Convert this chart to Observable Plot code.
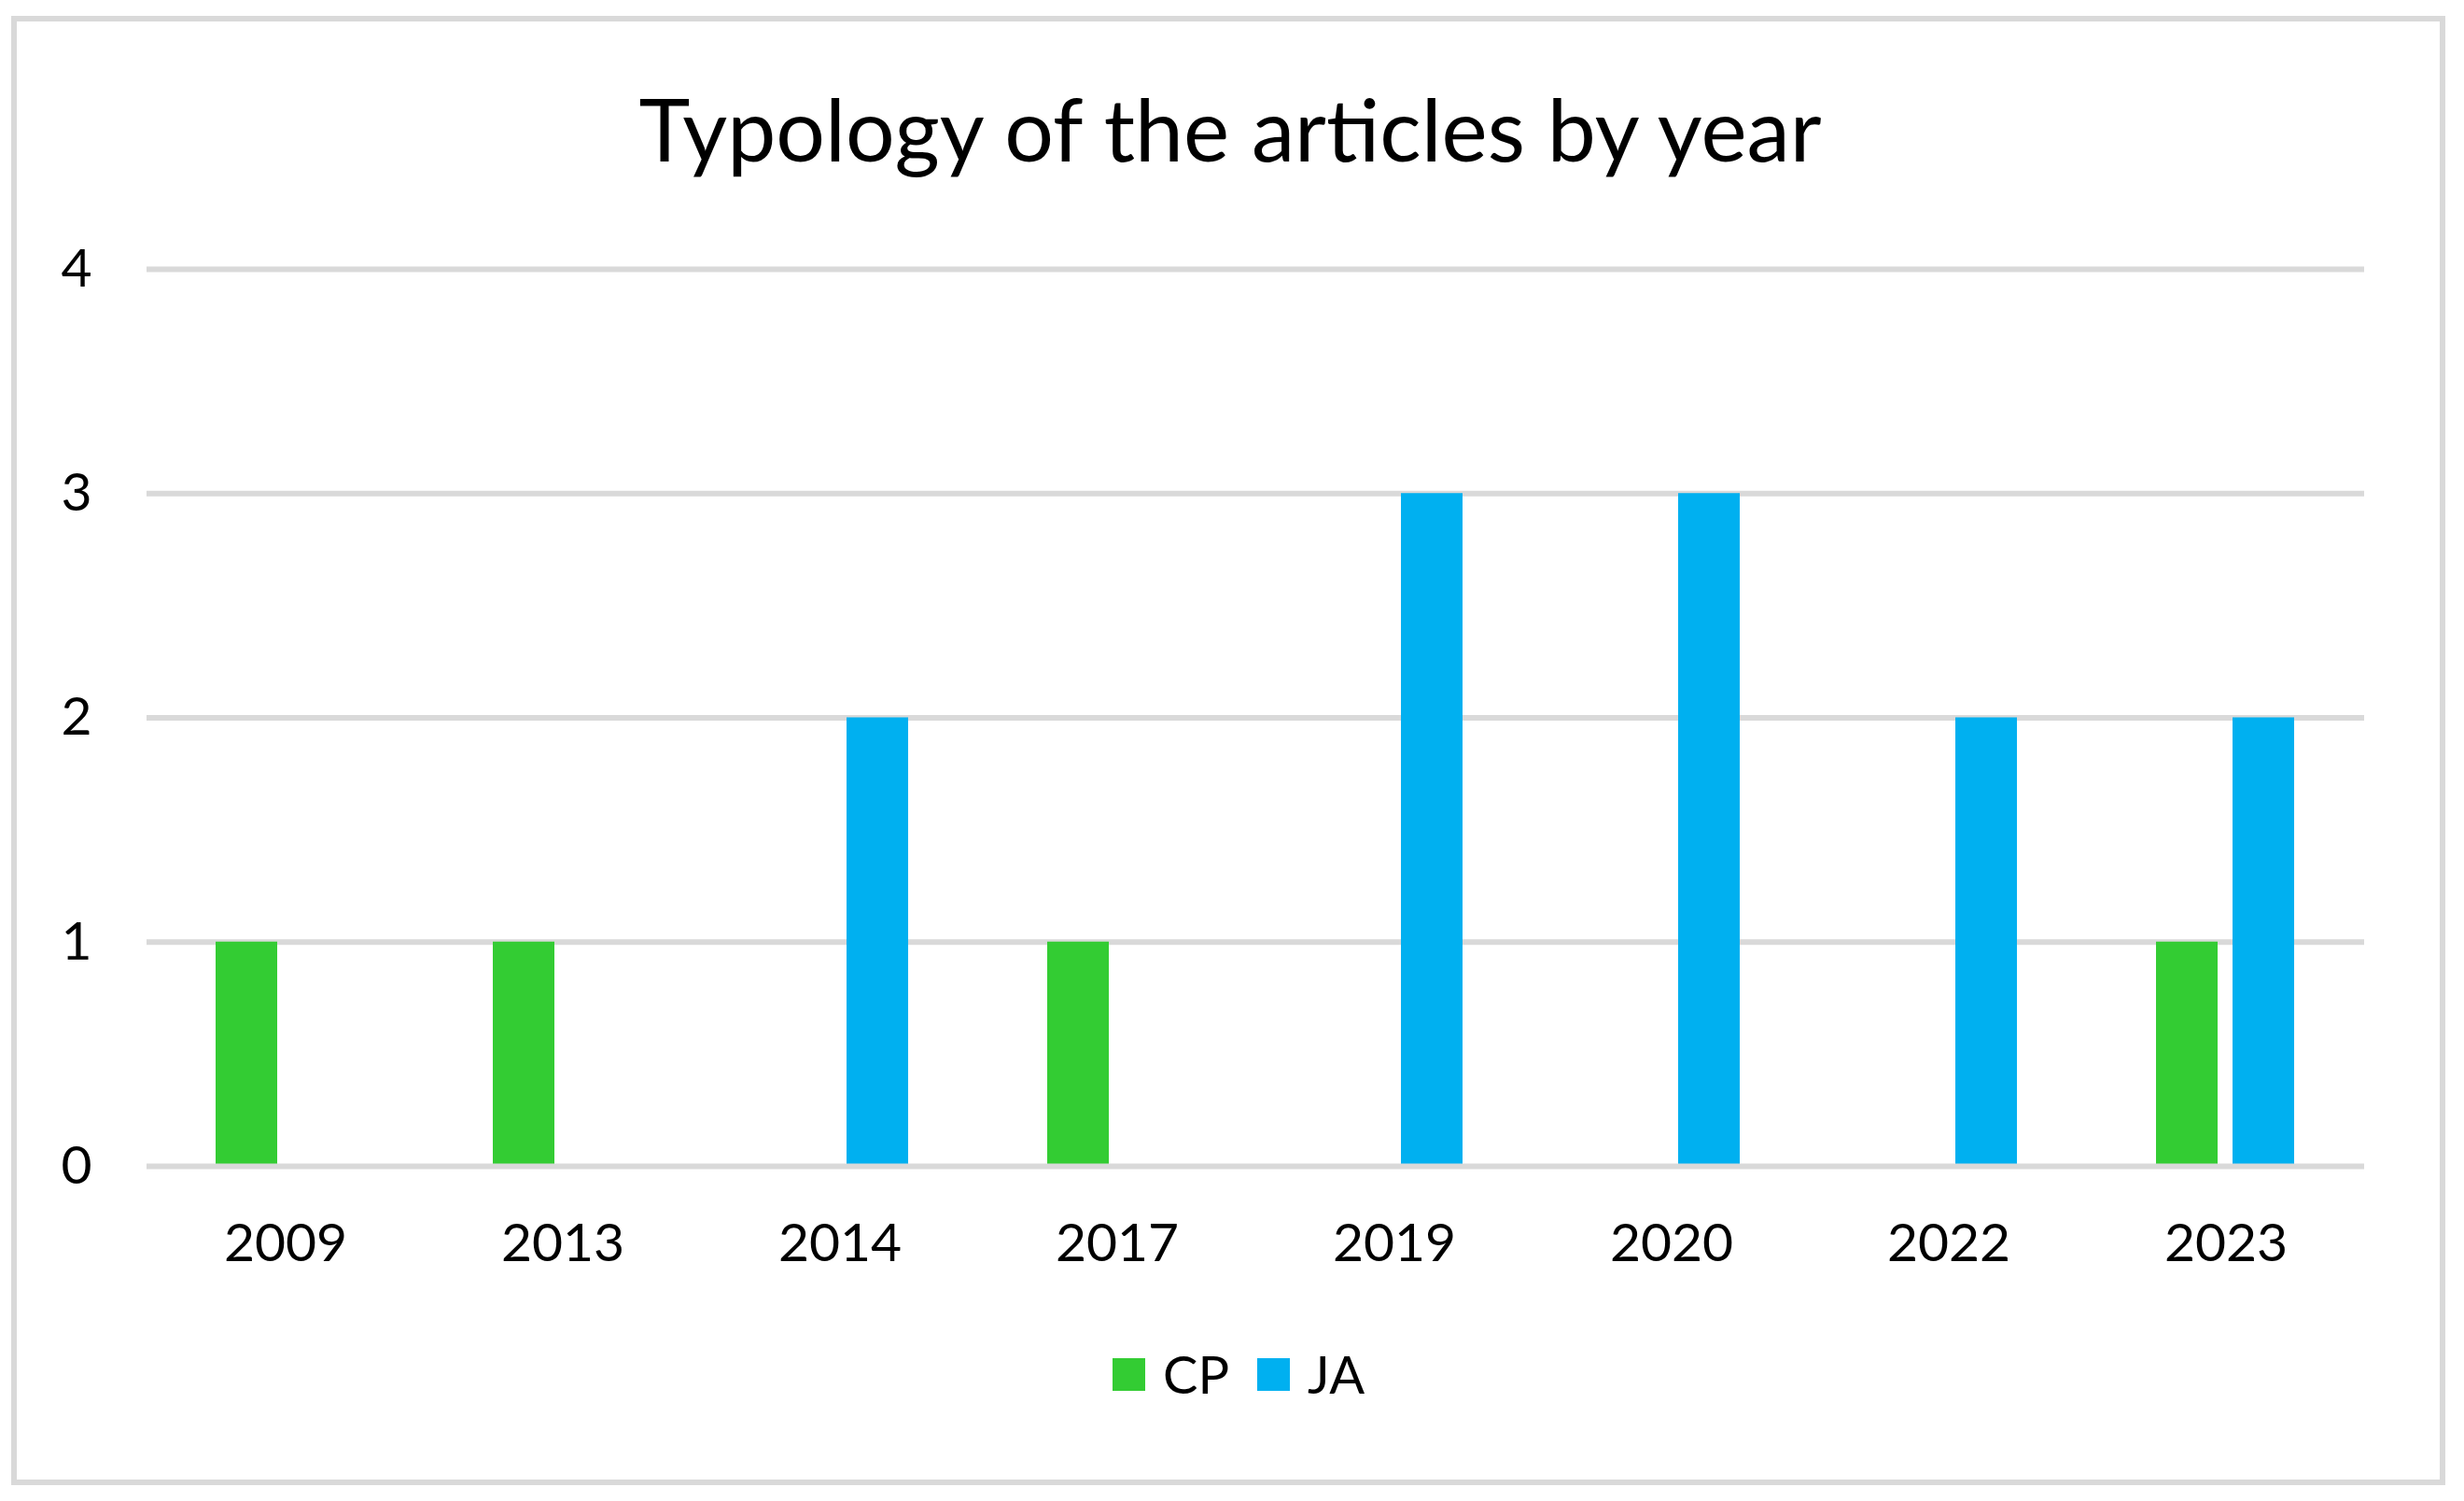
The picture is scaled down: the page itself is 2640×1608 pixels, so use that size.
<!DOCTYPE html>
<html>
<head>
<meta charset="utf-8">
<script src="https://cdn.jsdelivr.net/npm/d3@7"></script>
<script src="https://cdn.jsdelivr.net/npm/@observablehq/plot@0.6"></script>
<style>
  html, body { margin: 0; padding: 0; background: #fff; }
  #wrap { position: relative; width: 2640px; height: 1608px; background: #fff; font-family: Lato, sans-serif; color: #000; overflow: hidden; }
  #frame { position: absolute; left: 12px; top: 17px; width: 2608px; height: 1574px; border: 6px solid #d9d9d9; box-sizing: border-box; }
  #title { position: absolute; left: 0; width: 2636px; top: 91px; text-align: center; font-size: 93px; line-height: 1; white-space: nowrap; }
  #chart { position: absolute; left: 0; top: 200px; }
  #legend { position: absolute; left: 1192px; top: 1444px; display: flex; align-items: center; font-size: 56px; line-height: 1; }
  .sw { width: 35px; height: 35px; display: inline-block; }
  .lab { margin-left: 19px; margin-right: 30px; }
</style>
</head>
<body>
<div id="wrap">
  <div id="frame"></div>
  <div id="title"></div>
  <div id="chart"></div>
  <div id="legend"></div>
</div>
<script>
const title = "Typology of the articles by year";
const years = ["2009", "2013", "2014", "2017", "2019", "2020", "2022", "2023"];
const series = ["CP", "JA"];
const cpValues = [1, 1, 0, 1, 0, 0, 0, 1];
const jaValues = [0, 0, 2, 0, 3, 3, 2, 2];
const yTicks = [0, 1, 2, 3, 4];
const colors = ["#33CC33", "#00B0F0"];

const data = [];
years.forEach((y, i) => {
  data.push({year: y, type: "CP", value: cpValues[i]});
  data.push({year: y, type: "JA", value: jaValues[i]});
});

document.getElementById("title").textContent = title;

const chart = Plot.plot({
  width: 2640,
  height: 1200,
  marginTop: 88,
  marginBottom: 151,
  marginLeft: 154,
  marginRight: 104,
  style: {fontFamily: "Lato, sans-serif", fontSize: "57px", color: "#000", background: "transparent", overflow: "visible"},
  fx: {domain: years, paddingInner: 0, paddingOuter: 0, axis: "bottom", label: null, tickSize: 0, tickPadding: 61},
  x: {domain: series, paddingInner: 0.193, paddingOuter: 0.89, axis: null},
  y: {domain: [0, 4], ticks: yTicks, tickFormat: d3.format("d"), tickSize: 0, tickPadding: 59, label: null},
  color: {domain: series, range: colors},
  marks: [
    Plot.ruleY(yTicks.filter(d => d > 0), {stroke: "#d9d9d9", strokeWidth: 6}),
    Plot.barY(data, {fx: "year", x: "type", y: "value", fill: "type"}),
    Plot.ruleY([0], {stroke: "#d9d9d9", strokeWidth: 6})
  ]
});
document.getElementById("chart").appendChild(chart);

const legend = document.getElementById("legend");
series.forEach((s, i) => {
  const sw = document.createElement("span");
  sw.className = "sw";
  sw.style.background = colors[i];
  const lab = document.createElement("span");
  lab.className = "lab";
  lab.textContent = s;
  legend.appendChild(sw);
  legend.appendChild(lab);
});
</script>
</body>
</html>
